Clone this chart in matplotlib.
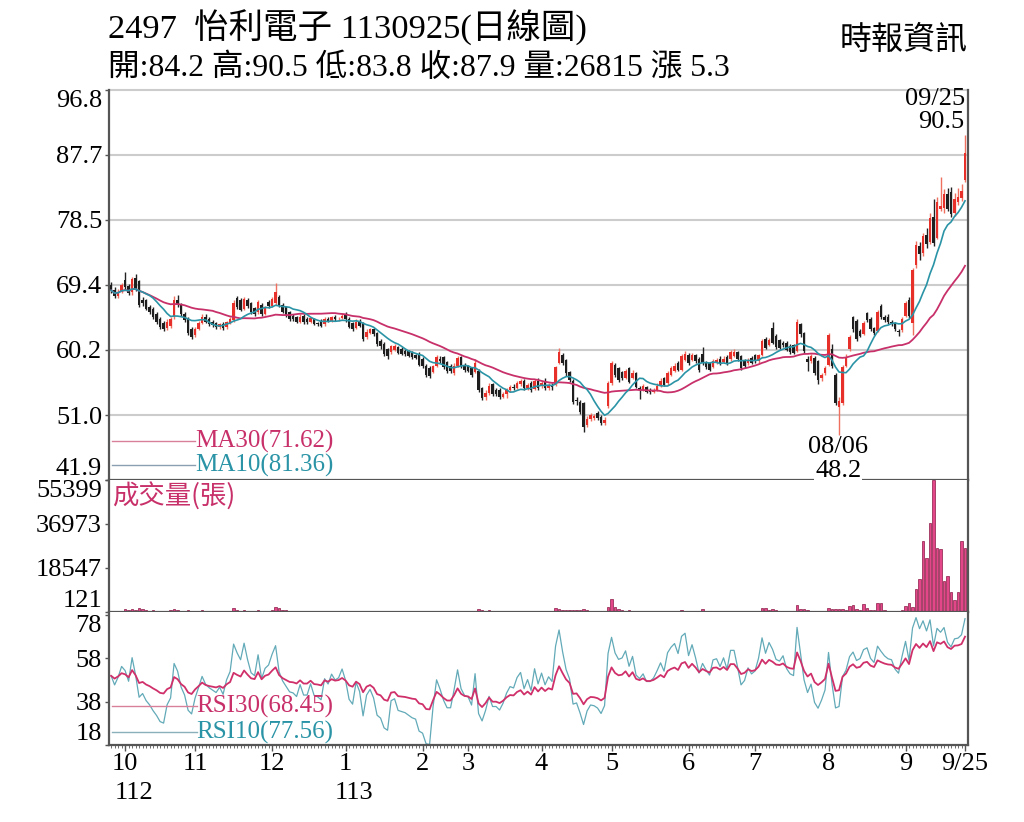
import matplotlib
matplotlib.use("Agg")
import matplotlib.pyplot as plt
import matplotlib.transforms as mtrans
import numpy as np
import pandas as pd

# daily candles, 2023/09/25 .. 2024/09/25 (index = trading day)
opens = [
    69.4, 68.6, 67.8, 68.4, 70.0, 69.2, 68.3, 70.4, 69.9, 67.3,
    67.2, 66.3, 66.0, 65.3, 64.6, 64.0, 63.3, 63.6, 64.8, 67.3,
    66.5, 65.3, 64.5, 63.2, 62.3, 63.2, 64.0, 64.9, 64.6, 64.2,
    64.0, 63.4, 63.9, 63.4, 64.0, 64.4, 67.5, 67.3, 66.0, 67.3,
    66.8, 66.1, 65.5, 66.6, 65.3, 67.0, 66.4, 66.8, 67.6, 66.6,
    66.2, 65.5, 65.0, 64.9, 64.2, 65.0, 64.6, 64.2, 64.5, 64.0,
    64.3, 63.8, 64.5, 64.3, 64.9, 64.5, 64.7, 65.2, 64.6, 64.0,
    63.3, 64.3, 64.0, 62.0, 62.6, 63.1, 62.6, 61.5, 61.1, 60.3,
    59.9, 60.2, 60.6, 60.4, 60.1, 60.0, 59.8, 59.5, 59.7, 59.0,
    58.0, 57.7, 57.1, 58.0, 58.9, 59.2, 58.5, 58.0, 56.9, 58.0,
    59.2, 58.1, 57.9, 57.6, 57.1, 57.3, 54.8, 53.6, 54.1, 55.4,
    54.6, 54.6, 53.6, 54.0, 54.5, 55.0, 54.9, 55.4, 55.9, 54.8,
    55.6, 54.7, 55.9, 55.1, 55.9, 54.8, 55.3, 55.4, 58.4, 59.5,
    58.8, 57.1, 55.9, 53.2, 52.9, 52.7, 49.6, 50.5, 50.6, 51.4,
    50.8, 49.9, 52.3, 55.5, 58.1, 57.6, 57.1, 56.3, 57.6, 56.3,
    56.9, 54.9, 54.6, 55.0, 54.5, 54.3, 54.6, 55.2, 56.2, 55.5,
    56.7, 57.3, 58.4, 57.4, 58.8, 59.5, 58.8, 59.5, 59.0, 59.7,
    58.5, 58.3, 57.8, 58.4, 59.0, 58.5, 59.2, 58.9, 59.4, 59.9,
    59.3, 58.8, 58.3, 59.1, 59.5, 58.6, 59.5, 61.8, 60.9, 63.3,
    62.2, 61.6, 61.2, 61.2, 60.8, 60.9, 60.1, 63.8, 62.6, 58.9,
    58.6, 59.1, 58.6, 56.2, 56.9, 58.1, 60.4, 56.7, 52.2, 52.8,
    58.0, 60.3, 64.8, 64.3, 62.9, 62.5, 65.4, 64.6, 63.3, 62.9,
    66.4, 64.9, 64.9, 64.2, 64.0, 62.9, 63.0, 65.0, 67.3, 64.0,
    72.2, 74.8, 73.9, 76.4, 75.4, 78.9, 76.0, 80.0, 80.2, 82.2,
    82.5, 79.5, 81.0, 81.6, 84.2,
]
highs = [
    69.8, 69.0, 68.8, 69.6, 71.2, 69.5, 70.5, 70.9, 70.1, 67.6,
    67.4, 66.6, 66.2, 65.5, 64.8, 64.3, 64.5, 64.9, 67.8, 67.9,
    66.8, 65.5, 64.8, 63.4, 63.5, 64.3, 65.3, 65.2, 64.8, 64.4,
    64.2, 64.0, 64.1, 64.3, 64.9, 67.2, 67.8, 67.5, 67.7, 67.5,
    67.0, 66.3, 67.3, 66.8, 66.4, 67.3, 67.7, 69.6, 67.9, 66.8,
    66.4, 65.7, 65.2, 65.0, 65.2, 65.3, 64.8, 64.9, 64.7, 64.2,
    64.5, 64.8, 64.8, 65.0, 65.1, 64.9, 65.4, 65.5, 64.8, 64.2,
    64.5, 64.6, 64.2, 63.1, 63.3, 63.3, 62.8, 61.7, 61.3, 60.5,
    60.9, 61.0, 60.8, 60.6, 60.3, 60.2, 60.0, 59.7, 59.9, 59.2,
    58.2, 57.9, 58.1, 59.5, 59.3, 59.4, 58.7, 58.2, 58.3, 59.4,
    59.4, 58.3, 58.1, 57.8, 58.9, 57.5, 55.0, 54.5, 55.5, 55.6,
    54.9, 54.8, 54.3, 54.9, 55.3, 55.4, 55.9, 56.1, 56.1, 55.6,
    55.8, 56.1, 56.2, 55.9, 56.3, 55.6, 55.6, 58.0, 60.5, 59.8,
    59.0, 57.3, 56.1, 53.6, 53.1, 52.9, 50.9, 51.3, 51.2, 51.6,
    51.0, 50.7, 55.8, 58.6, 58.4, 57.8, 57.3, 57.5, 57.8, 57.4,
    57.1, 55.2, 55.4, 55.2, 54.8, 54.9, 55.5, 56.2, 56.4, 57.3,
    57.9, 58.3, 58.6, 59.6, 60.0, 59.8, 59.8, 59.7, 59.2, 60.6,
    58.7, 58.5, 59.0, 59.1, 59.3, 59.3, 59.5, 60.2, 60.3, 60.1,
    59.5, 59.0, 59.1, 59.3, 59.7, 59.7, 61.7, 62.1, 61.9, 64.1,
    62.4, 61.8, 61.4, 61.4, 61.0, 61.1, 64.5, 64.0, 62.8, 59.3,
    59.6, 59.3, 58.8, 57.0, 57.9, 62.6, 61.0, 57.0, 53.6, 58.1,
    59.6, 62.3, 65.0, 64.6, 63.2, 64.3, 65.6, 64.8, 63.5, 65.8,
    66.7, 65.1, 65.2, 64.4, 64.2, 63.2, 64.9, 67.1, 67.6, 71.7,
    75.6, 75.4, 76.7, 77.4, 79.5, 81.5, 81.8, 84.5, 82.8, 83.0,
    83.2, 82.3, 83.0, 83.6, 90.5,
]
lows = [
    68.2, 67.5, 67.5, 68.2, 68.6, 67.9, 68.0, 68.5, 66.2, 66.4,
    65.8, 65.2, 64.5, 63.9, 63.1, 62.9, 63.0, 63.3, 64.6, 66.2,
    65.0, 64.1, 62.3, 61.8, 62.0, 63.0, 63.8, 64.0, 63.6, 63.5,
    63.2, 63.1, 63.0, 63.2, 63.8, 64.2, 66.0, 65.7, 65.8, 66.1,
    65.3, 65.0, 65.3, 65.0, 65.1, 66.1, 66.2, 66.6, 66.2, 65.4,
    64.9, 64.3, 64.3, 64.0, 64.0, 63.9, 63.9, 64.0, 63.7, 63.6,
    63.4, 63.6, 64.1, 64.1, 64.3, 64.3, 64.5, 64.2, 63.3, 62.9,
    63.1, 63.4, 61.5, 61.8, 62.4, 62.2, 60.8, 60.4, 59.3, 59.0,
    59.7, 60.0, 59.6, 59.5, 59.3, 59.2, 59.0, 58.9, 57.9, 57.6,
    56.4, 56.3, 56.9, 57.8, 58.3, 57.5, 56.9, 56.9, 56.7, 57.8,
    57.6, 57.1, 57.1, 56.4, 56.9, 54.3, 53.1, 53.2, 53.9, 53.7,
    53.7, 53.3, 53.4, 53.5, 54.3, 54.6, 54.7, 55.2, 54.5, 54.6,
    54.3, 54.5, 54.6, 54.9, 54.5, 54.6, 54.5, 55.2, 58.2, 58.1,
    56.6, 55.7, 52.6, 52.4, 51.2, 48.6, 49.3, 50.2, 50.3, 50.4,
    49.6, 49.6, 52.1, 55.3, 56.4, 55.7, 56.0, 56.1, 55.5, 56.1,
    54.8, 53.3, 54.4, 54.1, 54.0, 54.1, 54.4, 55.0, 55.1, 55.3,
    56.5, 57.1, 57.2, 57.2, 58.6, 58.1, 58.6, 58.4, 57.1, 58.1,
    57.5, 57.2, 57.6, 58.2, 58.1, 58.3, 58.1, 58.7, 59.2, 58.7,
    57.4, 57.6, 58.1, 58.2, 58.4, 58.4, 59.3, 60.3, 60.7, 61.0,
    60.3, 60.3, 60.6, 60.0, 59.7, 59.6, 59.9, 62.1, 59.8, 57.2,
    58.4, 56.7, 55.4, 55.8, 56.7, 57.9, 57.6, 52.5, 48.2, 52.5,
    57.8, 60.0, 62.8, 61.5, 62.0, 62.3, 64.1, 62.9, 62.3, 62.7,
    64.6, 64.1, 63.9, 63.6, 62.9, 62.2, 62.8, 64.8, 64.7, 62.3,
    71.8, 72.9, 73.5, 74.6, 75.1, 74.8, 75.8, 79.7, 79.5, 79.7,
    78.9, 79.0, 80.6, 81.2, 83.8,
]
closes = [
    68.6, 67.8, 68.4, 69.3, 69.0, 68.2, 70.2, 68.8, 66.5, 66.8,
    66.0, 65.5, 64.8, 64.2, 63.4, 63.2, 64.2, 64.6, 67.2, 66.6,
    65.2, 64.4, 62.6, 62.1, 63.2, 64.0, 64.9, 64.2, 63.9, 63.7,
    63.5, 63.8, 63.3, 64.1, 64.6, 66.8, 66.3, 65.9, 67.4, 66.4,
    65.5, 65.3, 67.0, 65.2, 66.1, 66.4, 67.4, 68.3, 66.4, 65.6,
    65.1, 64.6, 64.5, 64.2, 64.9, 64.1, 64.1, 64.7, 63.9, 63.8,
    63.6, 64.6, 64.3, 64.8, 64.5, 64.6, 65.0, 64.5, 63.5, 63.2,
    64.1, 63.6, 61.8, 62.8, 63.1, 62.5, 61.0, 60.7, 59.6, 59.3,
    60.7, 60.8, 59.8, 59.7, 59.6, 59.4, 59.2, 59.1, 58.1, 57.9,
    56.7, 56.6, 57.9, 59.2, 58.6, 57.8, 57.2, 57.2, 58.0, 59.1,
    57.9, 57.4, 57.3, 56.7, 58.4, 54.6, 53.5, 54.2, 55.2, 54.0,
    54.0, 53.6, 54.0, 54.6, 55.0, 54.9, 55.5, 55.8, 54.8, 55.3,
    54.6, 55.9, 54.9, 55.6, 54.8, 55.3, 55.0, 57.8, 59.9, 58.4,
    56.9, 56.0, 52.9, 53.0, 51.5, 49.4, 50.5, 51.0, 50.9, 50.6,
    49.9, 50.4, 55.5, 58.3, 56.7, 56.0, 56.2, 57.2, 55.7, 57.0,
    55.0, 54.6, 55.1, 54.3, 54.3, 54.6, 55.2, 55.9, 55.3, 57.0,
    57.6, 58.0, 57.4, 59.3, 59.7, 58.3, 59.5, 58.6, 57.4, 58.3,
    57.8, 57.4, 58.7, 58.8, 58.3, 59.0, 58.3, 59.9, 59.9, 58.9,
    57.6, 57.9, 58.8, 58.4, 58.6, 59.5, 61.4, 60.5, 61.6, 61.2,
    60.6, 60.5, 60.9, 60.2, 59.9, 59.8, 64.2, 62.4, 60.0, 58.5,
    59.3, 56.9, 56.0, 56.7, 57.6, 62.3, 57.9, 52.8, 53.0, 57.8,
    59.1, 62.0, 63.1, 61.8, 62.2, 64.0, 64.4, 63.1, 62.6, 65.5,
    64.9, 64.4, 64.1, 64.0, 63.1, 62.7, 64.6, 66.8, 65.0, 71.5,
    75.0, 73.7, 76.3, 75.1, 78.8, 75.2, 81.1, 80.5, 82.2, 80.0,
    79.3, 81.5, 81.7, 82.6, 87.9,
]
volumes = [
    600, 450, 500, 400, 1100, 700, 1300, 1000, 1500, 1200,
    800, 600, 700, 500, 600, 450, 500, 700, 1400, 900,
    600, 500, 700, 600, 450, 500, 700, 400, 350, 400,
    350, 300, 350, 400, 500, 1500, 800, 600, 700, 500,
    450, 400, 700, 450, 400, 500, 800, 1900, 1600, 900,
    700, 500, 450, 400, 350, 400, 350, 300, 350, 300,
    300, 350, 300, 350, 300, 250, 300, 350, 400, 350,
    300, 350, 500, 400, 300, 300, 450, 400, 500, 450,
    350, 300, 300, 250, 250, 300, 250, 300, 450, 400,
    500, 450, 350, 400, 300, 350, 400, 350, 400, 450,
    350, 300, 300, 350, 600, 1100, 900, 600, 700, 500,
    450, 400, 300, 350, 300, 250, 350, 300, 350, 300,
    300, 350, 300, 300, 350, 300, 350, 1800, 1400, 900,
    800, 700, 1000, 700, 800, 1100, 700, 500, 450, 500,
    450, 400, 2200, 5500, 2000, 1200, 800, 600, 700, 500,
    600, 500, 400, 350, 300, 300, 400, 450, 400, 600,
    500, 600, 500, 900, 600, 500, 450, 500, 600, 1200,
    600, 500, 450, 400, 350, 400, 350, 500, 400, 350,
    500, 400, 350, 300, 400, 500, 1500, 1800, 900, 1100,
    700, 500, 450, 400, 350, 400, 3000, 1200, 1100, 700,
    500, 450, 400, 350, 450, 1500, 1200, 1400, 1300, 1100,
    1000, 2700, 2900, 1100, 800, 3400, 1800, 1000, 700, 3900,
    3600, 700, 600, 500, 450, 500, 800, 2500, 3900, 2200,
    9700, 13800, 30000, 22500, 37200, 55399, 26700, 26300, 13000, 14900,
    8500, 5000, 8500, 29700, 26815,
]

month_pos = [4, 24, 46, 67, 89, 102, 123, 143, 165, 184, 205, 227, 244]
month_labels = ["10", "11", "12", "1", "2", "3", "4", "5", "6", "7", "8", "9", "9/25"]
year_pos = [4, 67]
year_labels = ["112", "113"]

price_ticks = [41.9, 51.0, 60.2, 69.4, 78.5, 87.7, 96.8]
vol_ticks = [121, 18547, 36973, 55399]
rsi_ticks = [18, 38, 58, 78]

SERIF = ["Liberation Serif", "Noto Sans CJK TC", "DejaVu Sans"]
CJK = ["Noto Sans CJK TC", "Liberation Serif", "DejaVu Sans"]
MAG = "#c8306a"
TEAL = "#2a94a6"
SPINE = "#555555"

n = min(len(opens), len(highs), len(lows), len(closes), len(volumes))
o = np.array(opens[:n])
h = np.array(highs[:n])
l = np.array(lows[:n])
c = np.array(closes[:n])
v = np.array(volumes[:n])
x = np.arange(n)

cs = pd.Series(c)
ma10 = cs.rolling(10, min_periods=1).mean()
ma30 = cs.rolling(30, min_periods=1).mean()


def rsi(prices, period):
    # Wilder smoothing; history before the chart is unknown, so start neutral
    chg = np.diff(prices, prepend=prices[0])
    seed = np.abs(np.diff(prices)).mean() / 2
    ag, al = seed, seed
    out = []
    for d in chg:
        ag = (ag * (period - 1) + max(d, 0)) / period
        al = (al * (period - 1) + max(-d, 0)) / period
        out.append(100 * ag / (ag + al))
    return np.array(out)


rsi10 = rsi(c, 10)
rsi30 = rsi(c, 30)

fig = plt.figure(figsize=(10.24, 8.22), dpi=100)
L = 109 / 1024
W = (968 - 109) / 1024
ax1 = fig.add_axes([L, 1 - 480 / 822, W, (480 - 90) / 822])
ax2 = fig.add_axes([L, 1 - 612 / 822, W, (612 - 480) / 822], sharex=ax1)
ax3 = fig.add_axes([L, 1 - 745 / 822, W, (745 - 612) / 822], sharex=ax1)

for ax in (ax1, ax2, ax3):
    for s in ax.spines.values():
        s.set_color(SPINE)
        s.set_linewidth(1.6)
    ax.spines["top"].set_visible(False)
    ax.tick_params(axis="y", length=3, width=1, color=SPINE, pad=2,
                   labelsize=19)

# ---- price panel
for p in price_ticks[1:]:
    ax1.axhline(p, color="#cccccc", lw=1.5, zorder=0, clip_on=False)

up = c >= o
body_lo = np.minimum(o, c)
body_h = np.maximum(np.abs(c - o), 0.12)
ax1.vlines(x[up], l[up], h[up], color="#f07060", lw=1.0, zorder=2)
ax1.vlines(x[~up], l[~up], h[~up], color="#222222", lw=1.0, zorder=2)
ax1.bar(x[up], body_h[up], 0.78, body_lo[up], color="#e8302a", zorder=3)
ax1.bar(x[~up], body_h[~up], 0.78, body_lo[~up], color="#1e1e1e", zorder=3)
ax1.plot(x, ma30, color=MAG, lw=1.3, zorder=4)
ax1.plot(x, ma10, color=TEAL, lw=1.2, zorder=4)

ax1.set_xlim(-0.6, n - 0.15)
ax1.set_ylim(41.9, 96.8)
ax1.set_yticks(price_ticks)
ax1.set_yticklabels([f"{p:.1f}" for p in price_ticks], family=SERIF, fontsize=19)
labs = ax1.get_yticklabels()
labs[0].set_va("bottom")
labs[-1].set_va("top")
ax1.tick_params(axis="x", bottom=False, labelbottom=False)

ax1.plot([0.004, 0.100], [0.10, 0.10], transform=ax1.transAxes, color="#d8809a", lw=1.0)
ax1.plot([0.004, 0.100], [0.038, 0.038], transform=ax1.transAxes, color="#8aa0b0", lw=1.0)
ax1.text(0.100, 0.10, "MA30(71.62)", transform=ax1.transAxes, color=MAG,
         fontsize=18, family=SERIF, va="center", ha="left")
ax1.text(0.100, 0.038, "MA10(81.36)", transform=ax1.transAxes, color=TEAL,
         fontsize=18, family=SERIF, va="center", ha="left")

ax1.text(n - 1.1, 95.6, "09/25", ha="right", va="center", fontsize=19, family=SERIF)
ax1.text(n - 1.1, 92.3, "90.5", ha="right", va="center", fontsize=19, family=SERIF)
ax1.text(207.8, 46.6, "08/06", ha="center", va="center", fontsize=19, family=SERIF,
         zorder=6)
ax1.text(207.8, 43.2, "48.2", ha="center", va="center", fontsize=19, family=SERIF,
         zorder=6, bbox=dict(facecolor="white", edgecolor="none", pad=0.5))

# ---- volume panel
ax2.bar(x, v, 0.75, color="#e4468a", edgecolor="#8a1a46", linewidth=0.5, zorder=2)
ax2.set_ylim(0, 55399)
ax2.set_yticks(vol_ticks)
ax2.set_yticklabels([str(t) for t in vol_ticks], family=SERIF, fontsize=19)
labs = ax2.get_yticklabels()
labs[0].set_va("bottom")
labs[-1].set_va("top")
ax2.tick_params(axis="x", bottom=False, labelbottom=False)
ax2.text(0.004, 0.87, "成交量(張)", transform=ax2.transAxes, color=MAG,
         fontsize=19, family=CJK, va="center", ha="left")

# ---- RSI panel
ax3.plot(x, rsi10, color="#62aab8", lw=0.9, zorder=2)
ax3.plot(x, rsi30, color="#d0306a", lw=1.3, zorder=3)
ax3.set_ylim(18, 79.5)
ax3.set_yticks(rsi_ticks)
ax3.set_yticklabels([str(t) for t in rsi_ticks], family=SERIF, fontsize=19)
labs = ax3.get_yticklabels()
labs[0].set_va("bottom")
labs[-1].set_va("top")

ax3.plot([0.004, 0.102], [0.293, 0.293], transform=ax3.transAxes, color="#d8809a", lw=1.0)
ax3.plot([0.004, 0.102], [0.098, 0.098], transform=ax3.transAxes, color="#8ab0bc", lw=1.0)
ax3.text(0.102, 0.293, "RSI30(68.45)", transform=ax3.transAxes, color=MAG,
         fontsize=18, family=SERIF, va="center", ha="left")
ax3.text(0.102, 0.098, "RSI10(77.56)", transform=ax3.transAxes, color=TEAL,
         fontsize=18, family=SERIF, va="center", ha="left")

ax3.set_xticks(month_pos)
ax3.set_xticklabels(month_labels, family=SERIF, fontsize=19)
ax3.set_xticks(x, minor=True)
ax3.tick_params(axis="x", which="major", length=4, width=1, color=SPINE, pad=2)
ax3.tick_params(axis="x", which="minor", length=2, width=0.6, color=SPINE)
tr = mtrans.blended_transform_factory(ax3.transData, ax3.transAxes)
for p, lab in zip(year_pos, year_labels):
    ax3.text(p + 2.5, -0.36, lab, transform=tr, ha="center", va="center",
             fontsize=19, family=SERIF)

# ---- header
fig.text(108 / 1024, 1 - 28 / 822, "2497  怡利電子 1130925(日線圖)",
         fontsize=24.8, family=SERIF, va="center", ha="left")
fig.text(108 / 1024, 1 - 68 / 822, "開:84.2 高:90.5 低:83.8 收:87.9 量:26815 漲 5.3",
         fontsize=22.8, family=SERIF, va="center", ha="left")
fig.text(968 / 1024, 1 - 40 / 822, "時報資訊", fontsize=23, family=CJK,
         va="center", ha="right")

fig.savefig("out.png", dpi=100)
